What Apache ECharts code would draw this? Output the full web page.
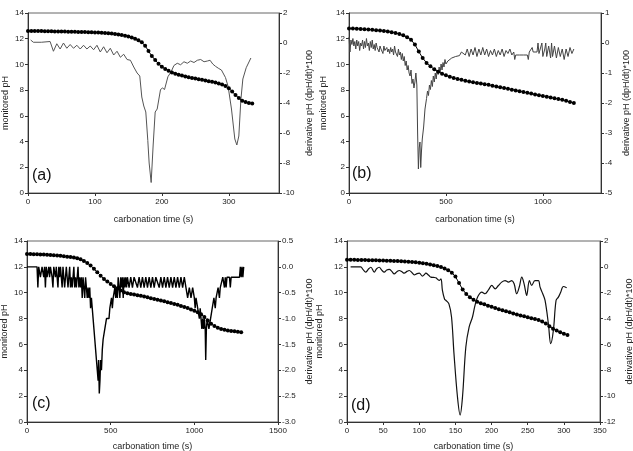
<!DOCTYPE html>
<html>
<head>
<meta charset="utf-8">
<script src="https://cdn.jsdelivr.net/npm/echarts@6/dist/echarts.min.js"></script>
<style>
  html, body { margin: 0; background: #fff; }
  #chart { width: 633px; height: 451px; }
</style>
</head>
<body>
<div id="chart"></div>
<script>
  // ---- panel (a) ----
  const timeA = [0,5,10,15,20,25,30,35,40,45,50,55,60,65,70,75,80,85,90,95,100,105,110,115,120,125,130,135,140,145,150,155,160,165,170,175,180,185,190,195,200,205,210,215,220,225,230,235,240,245,250,255,260,265,270,275,280,285,290,295,300,305,310,315,320,325,330,335]
  const phA = [12.60,12.60,12.60,12.60,12.60,12.59,12.58,12.58,12.57,12.57,12.56,12.56,12.55,
    12.55,12.54,12.53,12.53,12.52,12.51,12.50,12.49,12.48,12.46,12.44,12.42,
    12.40,12.37,12.33,12.29,12.24,12.18,12.10,12.00,11.88,11.72,
    11.45,11.05,
    10.65,10.35,10.05,9.82,9.65,9.50,9.38,9.28,9.20,9.13,9.07,9.01,8.95,8.90,8.85,8.80,8.75,8.70,8.65,8.59,8.52,8.44,8.32,8.15,7.90,7.62,7.38,7.18,7.07,7.00,6.97]
  const derivA = [[4,0.2],[8,0.05],[20,0.05],[33,0.1],[38,-0.55],[43,-0.05],[48,-0.4],[53,0.0],[58,-0.35],[63,-0.1],[68,-0.35],[73,-0.15],[78,-0.4],[83,-0.15],[88,-0.4],[93,-0.2],[98,-0.45],[103,-0.15],[108,-0.6],[113,-0.25],[118,-0.65],[123,-0.35],[128,-0.8],[133,-0.55],[138,-0.95],[143,-0.75],[148,-1.1],[153,-1.15],[158,-1.6],[163,-2.0],[167,-2.2],[170,-3.6],[173,-4.2],[176,-4.6],[179,-6.5],[181,-8.0],[184,-9.3],[187,-6.8],[190,-4.6],[193,-4.4],[198,-3.1],[201,-3.0],[204,-3.1],[209,-2.25],[214,-1.9],[218,-1.5],[223,-1.35],[228,-1.45],[233,-1.25],[238,-1.35],[243,-1.2],[248,-1.3],[253,-1.15],[258,-1.1],[263,-1.25],[268,-1.2],[272,-1.15],[276,-1.4],[280,-1.55],[285,-1.7],[289,-1.8],[295,-2.3],[299,-2.9],[304,-4.4],[309,-6.4],[312,-6.8],[315,-6.2],[318,-3.8],[321,-2.4],[326,-1.65],[333,-1.0]]

  // ---- panel (b) ----
  const timeB = [0,20,40,60,80,100,120,140,160,180,200,220,240,260,280,300,320,340,360,380,400,420,440,460,480,500,520,540,560,580,600,620,640,660,680,700,720,740,760,780,800,820,840,860,880,900,920,940,960,980,1000,1020,1040,1060,1080,1100,1120,1140,1160]
  const phB = [12.80,12.79,12.78,12.76,12.74,12.72,12.69,12.66,12.63,12.60,12.56,12.50,12.44,12.36,12.26,12.12,11.92,11.55,11.00,10.50,10.12,9.85,9.62,9.43,9.28,9.15,9.04,8.95,8.87,8.80,8.73,8.67,8.61,8.56,8.51,8.46,8.41,8.35,8.29,8.22,8.16,8.10,8.04,7.98,7.91,7.85,7.79,7.73,7.67,7.61,7.55,7.49,7.43,7.37,7.31,7.25,7.17,7.08,7.00]
  const derivB = [[0,0.2],[5,-0.3],[10,0.1],[15,-0.05],[20,0.15],[25,-0.1],[30,0.05],[35,-0.2],[40,0.1],[45,-0.1],[50,0.05],[55,-0.25],[60,0.0],[65,-0.1],[70,0.1],[75,-0.2],[80,0.05],[85,-0.15],[90,0.15],[95,-0.1],[100,0.0],[105,-0.25],[110,0.05],[115,-0.15],[120,0.1],[125,-0.2],[130,-0.05],[135,-0.25],[140,0.0],[145,-0.15],[150,-0.1],[155,-0.3],[160,-0.1],[165,-0.2],[170,-0.15],[175,-0.35],[180,-0.1],[185,-0.25],[190,-0.2],[195,-0.15],[200,-0.3],[205,-0.2],[210,-0.35],[215,-0.15],[220,-0.3],[225,-0.2],[230,-0.4],[235,-0.1],[240,-0.3],[245,-0.25],[250,-0.45],[255,-0.2],[260,-0.4],[265,-0.3],[270,-0.55],[275,-0.35],[280,-0.6],[285,-0.45],[290,-0.75],[295,-0.6],[300,-0.9],[305,-0.75],[310,-1.0],[315,-1.1],[320,-0.9],[325,-1.35],[330,-1.2],[335,-1.5],[340,-1.3],[345,-1.0],[350,-1.4],[354,-3.0],[358,-4.2],[362,-3.5],[366,-3.3],[370,-4.15],[374,-3.6],[378,-3.2],[385,-2.8],[392,-2.2],[400,-1.85],[405,-1.6],[410,-1.75],[415,-1.4],[420,-1.55],[425,-1.25],[430,-1.45],[435,-1.1],[440,-1.3],[445,-1.0],[450,-1.2],[455,-0.9],[460,-1.05],[465,-0.8],[470,-1.0],[475,-0.7],[480,-0.9],[485,-0.65],[490,-0.8],[495,-0.55],[500,-0.7],[510,-0.6],[520,-0.55],[530,-0.5],[540,-0.55],[550,-0.45],[560,-0.4],[570,-0.42],[580,-0.3],[590,-0.25],[600,-0.4],[610,-0.2],[620,-0.45],[630,-0.2],[640,-0.4],[650,-0.15],[660,-0.45],[670,-0.2],[680,-0.4],[690,-0.15],[700,-0.4],[710,-0.2],[720,-0.45],[730,-0.25],[740,-0.4],[750,-0.2],[760,-0.45],[770,-0.25],[780,-0.4],[790,-0.2],[800,-0.45],[810,-0.25],[820,-0.35],[830,-0.2],[840,-0.4],[850,-0.3],[855,-0.55],[860,-0.4],[880,-0.4],[900,-0.4],[920,-0.4],[925,-0.55],[930,-0.3],[940,-0.35],[945,-0.15],[950,-0.3],[960,-0.25],[970,-0.3],[975,0.0],[980,-0.35],[990,-0.3],[995,0.0],[1000,-0.45],[1010,-0.2],[1015,0.0],[1020,-0.45],[1030,-0.1],[1040,-0.5],[1045,0.0],[1050,-0.45],[1060,-0.1],[1070,-0.5],[1080,-0.15],[1090,-0.45],[1100,-0.2],[1110,-0.55],[1120,-0.2],[1130,-0.45],[1140,-0.15],[1150,-0.35],[1160,-0.2]]

  // ---- panel (c) ----
  const timeC = [0,20,40,60,80,100,120,140,160,180,200,220,240,260,280,300,320,340,360,380,400,420,440,460,480,500,520,540,560,580,600,620,640,660,680,700,720,740,760,780,800,820,840,860,880,900,920,940,960,980,1000,1020,1040,1060,1080,1100,1120,1140,1160,1180,1200,1220,1240,1260,1280]
  const phC = [13.00,12.99,12.98,12.97,12.96,12.95,12.93,12.91,12.89,12.87,12.85,12.82,12.79,12.76,12.72,12.66,12.58,12.46,12.30,12.10,11.85,11.58,11.32,11.07,10.86,10.67,10.50,10.34,10.18,10.04,9.96,9.91,9.86,9.81,9.76,9.70,9.64,9.58,9.52,9.46,9.40,9.34,9.27,9.20,9.13,9.06,8.98,8.90,8.81,8.71,8.60,8.48,8.33,8.12,7.85,7.60,7.42,7.29,7.20,7.13,7.08,7.04,7.01,6.98,6.95]
  const derivC = [[0,0.0],[60,0.0],[65,-0.4],[70,0.0],[80,-0.2],[90,0.0],[100,-0.2],[105,0.0],[110,-0.4],[115,0.0],[120,-0.2],[130,0.0],[135,-0.2],[140,0.0],[150,-0.2],[155,-0.4],[160,0.0],[170,-0.2],[175,0.0],[180,-0.2],[185,-0.4],[190,0.0],[195,-0.2],[200,0.0],[205,-0.2],[210,-0.4],[215,0.0],[220,-0.2],[225,-0.4],[230,-0.2],[235,0.0],[240,-0.2],[245,-0.4],[250,-0.2],[255,0.0],[260,-0.4],[265,-0.2],[270,-0.4],[275,-0.2],[280,0.0],[285,-0.4],[290,-0.2],[295,-0.4],[300,-0.2],[305,0.0],[310,-0.4],[315,-0.2],[320,-0.4],[325,-0.2],[330,-0.6],[335,-0.2],[340,-0.4],[345,-0.6],[350,-0.2],[355,-0.4],[360,-0.6],[365,-0.4],[370,-0.6],[375,-0.4],[380,-0.8],[385,-0.6],[390,-0.8],[395,-1.0],[400,-1.2],[405,-1.4],[410,-1.6],[415,-1.8],[420,-2.0],[425,-2.2],[428,-1.8],[432,-2.45],[436,-2.2],[440,-1.8],[445,-2.0],[450,-1.6],[455,-1.4],[465,-1.2],[475,-1.0],[490,-1.0],[495,-0.8],[505,-0.6],[510,-0.8],[515,-0.6],[525,-0.4],[530,-0.6],[535,-0.4],[540,-0.6],[545,-0.2],[550,-0.4],[555,-0.6],[560,-0.2],[565,-0.4],[570,-0.2],[575,-0.6],[580,-0.2],[585,-0.4],[590,-0.2],[595,-0.4],[600,-0.2],[610,-0.4],[620,-0.2],[630,-0.4],[640,-0.2],[650,-0.2],[660,-0.4],[670,-0.2],[680,-0.4],[690,-0.2],[700,-0.4],[710,-0.2],[720,-0.4],[730,-0.2],[740,-0.4],[750,-0.2],[760,-0.4],[770,-0.2],[780,-0.2],[790,-0.4],[800,-0.2],[810,-0.4],[820,-0.2],[830,-0.4],[840,-0.2],[850,-0.4],[860,-0.2],[870,-0.4],[880,-0.2],[890,-0.4],[900,-0.2],[910,-0.4],[920,-0.2],[930,-0.4],[940,-0.2],[950,-0.4],[960,-0.6],[970,-0.4],[980,-0.6],[990,-0.4],[1000,-0.6],[1005,-0.8],[1010,-0.6],[1020,-0.8],[1030,-1.0],[1035,-0.8],[1040,-1.0],[1045,-1.2],[1050,-1.0],[1055,-1.2],[1060,-1.0],[1065,-1.2],[1068,-1.8],[1072,-1.2],[1077,-1.0],[1082,-1.0],[1087,-1.2],[1092,-1.2],[1097,-1.0],[1102,-1.0],[1107,-0.8],[1112,-0.8],[1117,-0.6],[1125,-0.8],[1130,-0.6],[1137,-0.6],[1142,-0.4],[1150,-0.6],[1155,-0.4],[1165,-0.4],[1170,-0.2],[1180,-0.4],[1185,-0.2],[1190,-0.4],[1195,-0.2],[1210,-0.2],[1215,-0.4],[1220,-0.2],[1270,-0.2],[1275,0.0],[1280,-0.2],[1285,0.0],[1290,-0.2],[1295,0.0]]

  // ---- panel (d) ----
  const timeD = [0,5,10,15,20,25,30,35,40,45,50,55,60,65,70,75,80,85,90,95,100,105,110,115,120,125,130,135,140,145,150,155,160,165,170,175,180,185,190,195,200,205,210,215,220,225,230,235,240,245,250,255,260,265,270,275,280,285,290,295,300,305]
  const phD = [12.55,12.55,12.55,12.54,12.54,12.53,12.52,12.51,12.51,12.50,12.49,12.48,12.47,12.46,12.45,12.44,12.42,12.40,12.38,12.35,12.32,12.28,12.24,12.19,12.13,12.06,11.98,11.88,11.74,11.55,11.25,10.75,10.25,9.90,9.65,9.45,9.30,9.18,9.10,9.00,8.91,8.82,8.73,8.64,8.56,8.48,8.40,8.32,8.24,8.17,8.10,8.03,7.96,7.88,7.78,7.62,7.40,7.22,7.08,6.95,6.83,6.72]
  const derivD = [[5,0.0],[19,0.0],[22,-0.2],[26,-0.41],[30,-0.15],[33,-0.03],[37.7,-0.41],[41,-0.15],[44.6,-0.03],[48,-0.25],[51.5,-0.41],[55,-0.25],[58.4,-0.2],[62,-0.35],[65.3,-0.54],[69,-0.38],[72.3,-0.28],[76,-0.38],[79.2,-0.49],[83,-0.35],[86.1,-0.28],[90,-0.45],[93,-0.62],[97,-0.52],[100,-0.49],[104.5,-0.72],[107,-0.6],[109,-0.49],[113,-0.65],[116,-0.8],[120,-0.82],[123,-0.85],[127.5,-1.05],[130,-0.93],[132,-1.82],[135,-2.5],[137,-2.6],[141,-2.86],[144.6,-3.88],[148,-6.71],[152.8,-10.05],[156.5,-11.46],[159.8,-10.05],[164.4,-6.2],[169,-4.65],[173.6,-3.88],[177,-3.0],[181,-2.3],[186.5,-1.96],[191,-2.08],[195.7,-1.78],[200.3,-1.44],[205,-1.7],[209.5,-1.44],[214,-1.18],[218.7,-1.06],[223.3,-1.18],[228,-1.06],[231.2,-1.31],[234.8,-2.08],[238.5,-1.52],[241.8,-0.8],[245,-1.31],[248.6,-2.21],[252.3,-1.06],[255.5,-1.44],[260,-1.06],[264.8,-1.06],[267.1,-1.57],[270.8,-2.08],[274,-2.6],[278.6,-4.4],[281.8,-5.94],[285.5,-4.91],[289.2,-2.6],[292.4,-2.34],[295.6,-1.96],[299.3,-1.52],[303.9,-1.62]]

  const xTicksA = [0, 100, 200, 300]
  const xTicksB = [0, 500, 1000]

  const FONT = 'Liberation Sans, Arial, sans-serif'
  const AXIS_COLOR = '#333'

  // one entry per panel; box = [left, top, width, height]
  const panels = [
    {label: '(a)', box: [28, 13, 251, 180], xMax: 375, xTicks: xTicksA, xStep: 100,
      dMin: -10, dMax: 2, dStep: 2, t: timeA, ph: phA, deriv: derivA,
      dColor: '#555', dWidth: 1, smooth: false, gaps: [18, 26, 22], labelPos: [32, 168]},
    {label: '(b)', box: [349, 13, 252, 180], xMax: 1300, xTicks: xTicksB, xStep: 500,
      dMin: -5, dMax: 1, dStep: 1, t: timeB, ph: phB, deriv: derivB,
      dColor: '#444', dWidth: 1, smooth: false, gaps: [21, 21, 22], labelPos: [352, 166]},
    {label: '(c)', box: [27, 241, 251, 181], xMax: 1500, xStep: 500,
      dMin: -3, dMax: 0.5, dStep: 0.5, t: timeC, ph: phC, deriv: derivC, fixed: 1,
      dColor: '#000', dWidth: 1.4, smooth: false, gaps: [18, 27, 20], labelPos: [32, 396]},
    {label: '(d)', box: [347, 241, 253, 181], xMax: 350, xStep: 50,
      dMin: -12, dMax: 2, dStep: 2, t: timeD, ph: phD, deriv: derivD,
      dColor: '#111', dWidth: 1.2, smooth: 0.35, gaps: [23, 25, 20], labelPos: [351, 398]}
  ]

  const tickLabel = {fontFamily: FONT, fontSize: 8, color: '#222'}
  const nameStyle = {fontFamily: FONT, fontSize: 9, color: '#222'}

  const grid = [], xAxis = [], yAxis = [], series = [], graphic = []

  panels.forEach((p, i) => {
    grid.push({
      left: p.box[0], top: p.box[1], width: p.box[2], height: p.box[3],
      show: true, borderColor: '#666', borderWidth: 1, outerBoundsMode: 'none'
    })
    // plain numbers, no thousands separator
    const xLabel = Object.assign({}, tickLabel, {margin: 5, formatter: v => String(v)})
    const xTick = {show: true, inside: false, length: 3, lineStyle: {color: AXIS_COLOR}}
    if (p.xTicks) {
      xLabel.customValues = p.xTicks
      xTick.customValues = p.xTicks
    }
    xAxis.push({
      type: 'value', gridIndex: i, min: 0, max: p.xMax, interval: p.xStep,
      name: 'carbonation time (s)', nameLocation: 'middle', nameGap: p.gaps[2],
      nameTextStyle: nameStyle,
      axisLine: {onZero: false, lineStyle: {color: AXIS_COLOR, width: 1}},
      axisTick: xTick, axisLabel: xLabel, splitLine: {show: false}
    })
    yAxis.push({
      type: 'value', gridIndex: i, position: 'left', min: 0, max: 14, interval: 2,
      name: 'monitored pH', nameLocation: 'middle', nameRotate: 90, nameGap: p.gaps[0],
      nameTextStyle: nameStyle,
      axisLine: {show: true, onZero: false, lineStyle: {color: AXIS_COLOR, width: 1}},
      axisTick: {show: true, length: 3, lineStyle: {color: AXIS_COLOR}},
      axisLabel: Object.assign({}, tickLabel, {margin: 4}), splitLine: {show: false}
    })
    yAxis.push({
      type: 'value', gridIndex: i, position: 'right', min: p.dMin, max: p.dMax, interval: p.dStep,
      name: 'derivative pH (dpH/dt)*100', nameLocation: 'middle', nameRotate: 90, nameGap: p.gaps[1],
      nameTextStyle: nameStyle,
      axisLine: {show: true, onZero: false, lineStyle: {color: AXIS_COLOR, width: 1}},
      axisTick: {show: true, length: 3, lineStyle: {color: AXIS_COLOR}},
      axisLabel: Object.assign({}, tickLabel, {
        margin: 4,
        formatter: v => p.fixed ? v.toFixed(p.fixed) : String(v)
      }),
      splitLine: {show: false}
    })
    series.push({
      type: 'line', xAxisIndex: i, yAxisIndex: i * 2 + 1,
      data: p.deriv, showSymbol: false, symbol: 'none', smooth: p.smooth,
      lineStyle: {color: p.dColor, width: p.dWidth}, z: 2
    })
    series.push({
      type: 'line', xAxisIndex: i, yAxisIndex: i * 2,
      data: p.t.map((t, k) => [t, p.ph[k]]),
      symbol: 'circle', symbolSize: 4, showSymbol: true,
      itemStyle: {color: '#000'}, lineStyle: {color: '#000', width: 1}, z: 3
    })
    graphic.push({
      type: 'text', left: p.labelPos[0], top: p.labelPos[1],
      style: {text: p.label, font: '16px ' + FONT, fill: '#111'}
    })
  })

  const chart = echarts.init(document.getElementById('chart'), null, {renderer: 'canvas'})
  chart.setOption({
    animation: false,
    backgroundColor: '#fff',
    grid, xAxis, yAxis, series, graphic
  })
</script>
</body>
</html>
